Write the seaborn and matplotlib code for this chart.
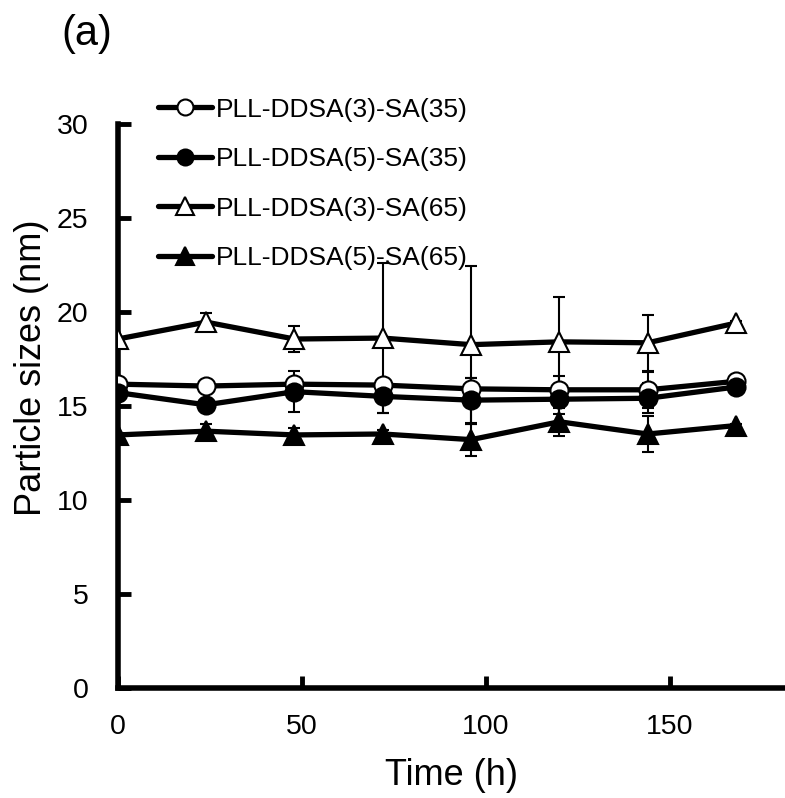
import numpy as np
import pandas as pd
import matplotlib
matplotlib.use("Agg")
import matplotlib.pyplot as plt
from matplotlib.lines import Line2D
import seaborn as sns

time_h = [0, 24, 48, 72, 96, 120, 144, 168]
labels = ["PLL-DDSA(3)-SA(35)", "PLL-DDSA(5)-SA(35)", "PLL-DDSA(3)-SA(65)", "PLL-DDSA(5)-SA(65)"]
s3_35 = [16.15, 16.05, 16.15, 16.1, 15.9, 15.85, 15.85, 16.3]
s5_35 = [15.7, 15.05, 15.75, 15.5, 15.3, 15.35, 15.4, 16.0]
s3_65 = [18.55, 19.45, 18.55, 18.6, 18.25, 18.4, 18.35, 19.4]
s5_65 = [13.45, 13.65, 13.45, 13.5, 13.2, 14.15, 13.5, 13.95]
e3_35 = [0.1, 0.1, 0.3, 0.3, 0.6, 0.75, 0.95, 0.1]
e5_35 = [0.1, 0.2, 1.1, 0.9, 1.2, 0.8, 0.8, 0.1]
e3_65 = [0.1, 0.5, 0.7, 4.0, 4.2, 2.4, 1.5, 0.1]
e5_65 = [0.1, 0.4, 0.35, 0.2, 0.85, 0.75, 0.95, 0.1]
x_ticks = [0, 50, 100, 150]
y_ticks = [0, 5, 10, 15, 20, 25, 30]

series = [s3_35, s5_35, s3_65, s5_65]
errors = [e3_35, e5_35, e3_65, e5_65]
markers = ["o", "o", "^", "^"]
faces = ["white", "black", "white", "black"]
msizes = [13, 13, 14.5, 14.5]

sns.set_theme(style="ticks")
plt.rcParams["font.family"] = ["Liberation Sans", "DejaVu Sans"]
plt.rcParams.update({"text.color": "black", "axes.labelcolor": "black",
                     "xtick.color": "black", "ytick.color": "black",
                     "axes.edgecolor": "black"})

fig = plt.figure(figsize=(7.85, 7.98), dpi=100)
ax = fig.add_axes([0.150, 0.138, 0.850, 0.707])

rows = []
for lab, vals in zip(labels, series):
    for t, v in zip(time_h, vals):
        rows.append({"Time": t, "Size": v, "Sample": lab})
df = pd.DataFrame(rows)

for i, (lab, vals, errs) in enumerate(zip(labels, series, errors)):
    ax.errorbar(time_h, vals, yerr=errs, fmt="none", ecolor="black",
                elinewidth=1.5, capsize=4.5, capthick=1.5, zorder=2)
    sub = df[df["Sample"] == lab]
    sns.lineplot(data=sub, x="Time", y="Size", ax=ax, color="black",
                 linewidth=3.8, marker=markers[i], markersize=msizes[i],
                 markerfacecolor=faces[i], markeredgecolor="black",
                 markeredgewidth=1.5, zorder=3 + i, legend=False)

handles = [Line2D([0], [0], color="black", linewidth=3.8, marker=markers[i],
                  markersize=msizes[i] - 1.5, markerfacecolor=faces[i],
                  markeredgecolor="black", markeredgewidth=1.5)
           for i in range(4)]
leg = fig.legend(handles, labels, loc="upper left", bbox_to_anchor=(0.188, 0.891),
                 frameon=False, fontsize=19, handlelength=2.05, handletextpad=0.15,
                 labelspacing=0.97, borderaxespad=0)

ax.set_xlim(0, 181.3)
ax.set_ylim(0, 30)
ax.set_xticks(x_ticks)
ax.set_yticks(y_ticks)
ax.tick_params(axis="both", direction="in", length=9, width=3.5, labelsize=20.5,
               pad=19, color="black", labelcolor="black")
ax.tick_params(axis="y", pad=21)
for side in ["top", "right"]:
    ax.spines[side].set_visible(False)
for side in ["left", "bottom"]:
    ax.spines[side].set_linewidth(4)
    ax.spines[side].set_color("black")
ax.set_xlabel("Time (h)", fontsize=26, labelpad=13)
ax.set_ylabel("Particle sizes (nm)", fontsize=26)
ax.yaxis.set_label_coords(-0.103, 0.567)
ax.patch.set_alpha(0)

fig.text(0.11, 0.958, "(a)", fontsize=30, ha="center", va="center")

fig.savefig("out.png", dpi=100)
